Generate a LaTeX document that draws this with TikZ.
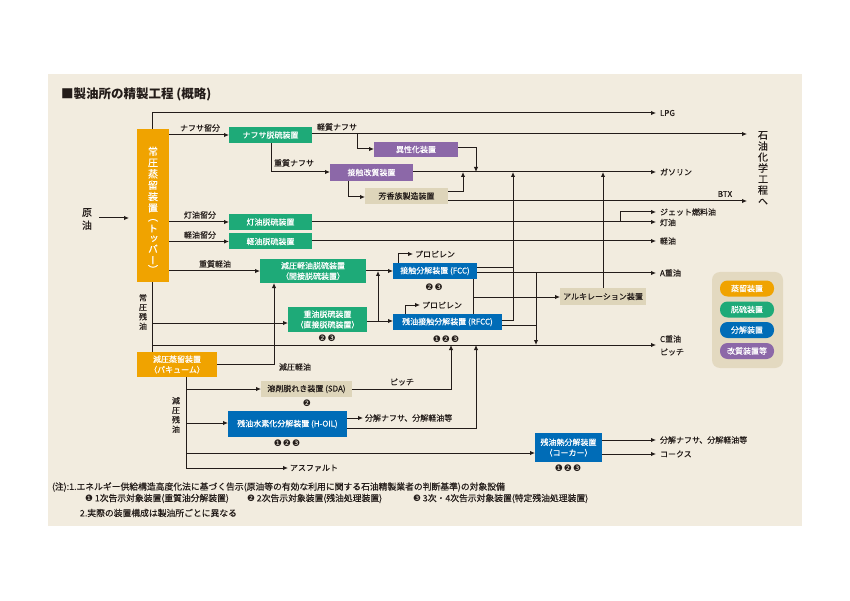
\documentclass[tikz,border=0pt]{standalone}
\usepackage{fontspec}
\setmainfont{Noto Sans CJK JP}[UprightFeatures={FakeBold=0.35}]
\newfontfamily\jpv{Noto Sans CJK JP}[RawFeature=+vert, FakeBold=0.35]
\newfontfamily\djv{DejaVu Sans}
\usetikzlibrary{arrows.meta,calc}
\definecolor{bgpanel}{RGB}{242,236,223}
\definecolor{ink}{RGB}{35,28,25}
\definecolor{cOrange}{RGB}{240,163,0}
\definecolor{cGreen}{RGB}{30,170,120}
\definecolor{cBlue}{RGB}{0,108,183}
\definecolor{cPurple}{RGB}{140,104,168}
\definecolor{cTan}{RGB}{222,213,186}
\definecolor{cLegend}{RGB}{227,217,192}
\begin{document}
\begin{tikzpicture}[x=1pt,y=-1pt,
  every node/.style={inner sep=0pt, outer sep=0pt, text=ink},
  ln/.style={draw=ink, line width=1pt},
  arr/.style={ln, -{Latex[length=5pt,width=4.5pt]}},
  unit/.style={inner sep=0pt, align=center, font=\fontsize{8}{10.5}\selectfont},
  og/.style={unit, fill=cOrange, text=white},
  gr/.style={unit, fill=cGreen, text=white},
  bl/.style={unit, fill=cBlue, text=white},
  pu/.style={unit, fill=cPurple, text=white},
  tn/.style={unit, fill=cTan, text=ink},
  lbl/.style={font=\fontsize{8}{9}\selectfont},
  prod/.style={lbl, anchor=west},
  vlbl/.style={align=center, font={\jpv\fontsize{8}{9.5}\selectfont}},
  badge/.style={font={\djv\fontsize{9}{9}\selectfont}},
  pill/.style={unit, minimum width=54, minimum height=16, rounded corners=7.5pt, text=white},
  note/.style={anchor=west, font=\fontsize{8.8}{9}\selectfont}
]
\useasboundingbox (0,0) rectangle (850,601);
\fill[white] (0,0) rectangle (850,601);
\fill[bgpanel] (48,74) rectangle (802,526);

\node[anchor=west, font=\bfseries\fontsize{12.5}{12.5}\selectfont] (title) at (61,94) {■製油所の精製工程 (概略)};

% ---------- units ----------
\node[og, minimum width=32, minimum height=153] (topper) at (153,205.5) {};
\node[align=center, text=white, font={\jpv\fontsize{10}{11.3}\selectfont}] (topperlbl) at (153,210)
  {常\\圧\\蒸\\留\\装\\置\\[-2pt]（\\ト\\[-1pt]ッ\\[-1pt]バ\\ー\\[-2pt]）};
\node[gr, minimum width=83, minimum height=16] (naph) at (270.5,135) {ナフサ脱硫装置};
\node[gr, minimum width=83, minimum height=16] (kero) at (270.5,222) {灯油脱硫装置};
\node[gr, minimum width=83, minimum height=16] (gasoil) at (270.5,241.5) {軽油脱硫装置};
\node[gr, minimum width=106, minimum height=24] (vgo) at (313,271) {減圧軽油脱硫装置\\（間接脱硫装置）};
\node[gr, minimum width=79, minimum height=25] (rhds) at (327.5,319.5) {重油脱硫装置\\（直接脱硫装置）};
\node[pu, minimum width=84, minimum height=15] (isom) at (416,149.5) {異性化装置};
\node[pu, minimum width=83, minimum height=17] (ref) at (371.5,172.5) {接触改質装置};
\node[tn, minimum width=83, minimum height=16] (arom) at (406.5,196) {芳香族製造装置};
\node[bl, minimum width=84, minimum height=16] (fcc) at (435,271) {接触分解装置 (FCC)};
\node[bl, minimum width=109, minimum height=16] (rfcc) at (447.5,322) {残油接触分解装置 (RFCC)};
\node[tn, minimum width=86, minimum height=17] (alky) at (603,296.5) {アルキレーション装置};
\node[og, minimum width=80, minimum height=25] (vac) at (177,364.5) {減圧蒸留装置\\（バキューム）};
\node[tn, minimum width=91, minimum height=16] (sda) at (306.5,389) {溶剤脱れき装置 (SDA)};
\node[bl, minimum width=119, minimum height=26] (hoil) at (287.5,424) {残油水素化分解装置 (H-OIL)};
\node[bl, minimum width=67, minimum height=29] (coker) at (568.5,447.5) {残油熱分解装置\\（コーカー）};

% badges
\node[badge] (b1) at (327,338) {❷\kern1pt❸};
\node[badge] (b2) at (434,287) {❷\kern1pt❸};
\node[badge] (b3) at (446,339) {❶\kern1pt❷\kern1pt❸};
\node[badge] (b4) at (307,403) {❷};
\node[badge] (b5) at (287,443) {❶\kern1pt❷\kern1pt❸};
\node[badge] (b6) at (568,468) {❶\kern1pt❷\kern1pt❸};

% ---------- end points ----------
\coordinate (pLPG) at (656,113);
\coordinate (pPC) at (747,134);
\coordinate (pGas) at (656,172);
\coordinate (pBTX) at (747,201);
\coordinate (pJet) at (656,212);
\coordinate (pKero) at (656,222);
\coordinate (pGasoil) at (656,241);
\coordinate (pA) at (656,273);
\coordinate (pC) at (656,345);
\coordinate (pCk1) at (656,440);
\coordinate (pCk2) at (656,454);
\coordinate (pAsph) at (288,468);
\coordinate (pHo) at (363,418);
\coordinate (pPro1) at (413,254);
\coordinate (pPro2) at (420,305);

% ---------- crude ----------
\node[align=center, font=\fontsize{10}{13}\selectfont] (crude) at (87,219) {原\\油};
\draw[arr] (99,218) -- ([xshift=-8pt]topper.west |- 0,218);

% ---------- topper outputs ----------
\draw[arr] (152,129) |- (pLPG);
\draw[arr] (topper.east |- 0,135) -- (naph.west);
\draw[arr] (naph.east |- 0,134) -- (pPC);
\draw[arr] (357,134) |- (isom.west |- 0,149);
\draw[arr] (isom.east |- 0,148) -| (476,172);
\draw[arr] (271,143) |- (ref.west |- 0,172);
\draw[arr] (ref.east |- 0,172) -- (pGas);
\draw[arr] (348,181) |- (arom.west |- 0,197);
\draw[arr] (arom.east |- 0,192) -| (463,172);
\draw[arr] (arom.east |- 0,201) -- (pBTX);

\draw[arr] (topper.east |- kero.west) -- (kero.west);
\draw[arr] (topper.east |- gasoil.west) -- (gasoil.west);
\draw[arr] (kero.east) -- (pKero);
\draw[arr] (620,222) |- (pJet);
\draw[arr] (gasoil.east |- pGasoil) -- (pGasoil);
\draw[arr] (topper.east |- vgo.west) -- (vgo.west);
\draw[arr] (vgo.east) -- (fcc.west);

% FCC / RFCC
\draw[arr] (398,263) |- (pPro1);
\draw[arr] (405,314) |- (pPro2);
\draw[arr] (rhds.east |- 0,321) -- (rfcc.west |- 0,321);
\draw[arr] (378,321) -- (378,271);
\draw[ln] (fcc.east |- 0,268) -- (513,268);
\draw[arr] (rfcc.east |- 0,320) -| (513,172);
\draw[arr] (fcc.east |- 0,273) -- (pA);
\draw[arr] (536,273) -- (536,345);
\draw[ln] (rfcc.east |- 0,325) -- (536,325);
\draw[ln] (473,279) -- (473,314);
\draw[arr] (473,297) -- (alky.west |- 0,297);
\draw[arr] (alky.north) -- (603,172);

% atmospheric residue
\draw[ln] (152,282) -- (152,352);
\draw[arr] (152,323) -- (rhds.west |- 0,323);
\draw[arr] (152,345) -- (pC);

% vacuum
\draw[arr] (vac.east |- 0,364) -| (274,283);
\draw[arr] (186,377) |- (pAsph);
\draw[arr] (186,389) -- (sda.west);
\draw[arr] (186,423) -- (hoil.west |- 0,423);
\draw[arr] (186,453) -- (coker.west |- 0,453);
\draw[arr] (sda.east) -| (451,345);
\draw[arr] (hoil.east |- 0,418) -- (pHo);
\draw[arr] (hoil.east |- 0,428) -| (476,345);
\draw[arr] (coker.east |- pCk1) -- (pCk1);
\draw[arr] (coker.east |- pCk2) -- (pCk2);

% ---------- labels ----------
\node[lbl] (l1) at (200,128) {ナフサ留分};
\node[lbl] (l2) at (337,127) {軽質ナフサ};
\node[lbl] (l3) at (294,163) {重質ナフサ};
\node[lbl] (l4) at (200,215) {灯油留分};
\node[lbl] (l5) at (200,235) {軽油留分};
\node[lbl] (l6) at (215,264) {重質軽油};
\node[vlbl] (l7) at (143,312) {常\\圧\\残\\油};
\node[lbl] (l8) at (295,367) {減圧軽油};
\node[vlbl] (l9) at (176,415) {減\\圧\\残\\油};
\node[lbl] (l10) at (402,382) {ピッチ};
\node[prod] (l11) at (415,254) {プロピレン};
\node[prod] (l12) at (422,305) {プロピレン};
\node[prod] (l13) at (365,418) {分解ナフサ、分解軽油等};
\node[prod] (l14) at (290,468) {アスファルト};

\node[prod] (o1) at (660,113) {LPG};
\node[prod] (o2) at (660,172) {ガソリン};
\node[lbl] (o3) at (725,194) {BTX};
\node[prod] (o4) at (660,212) {ジェット燃料油};
\node[prod] (o5) at (660,222.5) {灯油};
\node[prod] (o6) at (660,241) {軽油};
\node[prod] (o7) at (660,273) {A重油};
\node[prod] (o8) at (660,339) {C重油};
\node[prod] (o9) at (660,352) {ピッチ};
\node[prod] (o10) at (660,440) {分解ナフサ、分解軽油等};
\node[prod] (o11) at (660,454) {コークス};
\node[align=center, font={\jpv\fontsize{10}{11}\selectfont}] (pc) at (763,168) {石\\油\\化\\学\\工\\程\\へ};

% ---------- legend ----------
\fill[cLegend, rounded corners=8pt] (712,272) rectangle (783,368);
\node[pill, fill=cOrange] (k1) at (747,288.5) {蒸留装置};
\node[pill, fill=cGreen] (k2) at (747,309.5) {脱硫装置};
\node[pill, fill=cBlue] (k3) at (747,330) {分解装置};
\node[pill, fill=cPurple] (k4) at (747,351) {改質装置等};

% ---------- notes ----------
\node[note] (n1) at (52,487) {(注):1.エネルギー供給構造高度化法に基づく告示(原油等の有効な利用に関する石油精製業者の判断基準)の対象設備};
\node[note] (n2) at (85,498.5) {{\djv ❶} 1次告示対象装置(重質油分解装置)};
\node[note] (n3) at (247,498.5) {{\djv ❷} 2次告示対象装置(残油処理装置)};
\node[note] (n4) at (413,498.5) {{\djv ❸} 3次・4次告示対象装置(特定残油処理装置)};
\node[note] (n5) at (80,513) {2.実際の装置構成は製油所ごとに異なる};
\end{tikzpicture}
\end{document}
